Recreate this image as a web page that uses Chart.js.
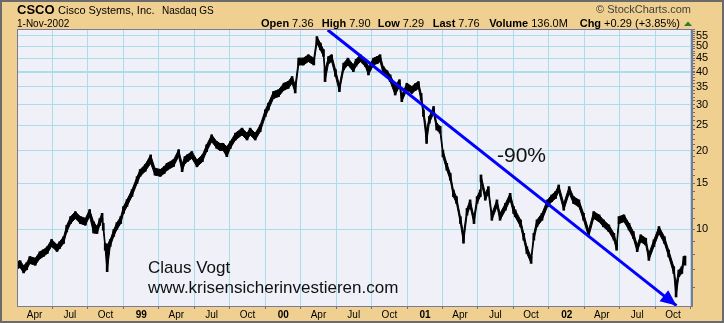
<!DOCTYPE html>
<html>
<head>
<meta charset="utf-8">
<script src="https://cdn.jsdelivr.net/npm/chart.js@4.4.0/dist/chart.umd.min.js"></script>
<style>
  html, body { margin: 0; padding: 0; background: #f0d090; }
  #wrap { width: 724px; height: 323px; }
</style>
</head>
<body>
<div id="wrap"><canvas id="chart" width="724" height="323"></canvas></div>
<script>
const dates = [
  '1998-02-16','1998-02-23','1998-03-04','1998-03-12','1998-03-20','1998-04-03','1998-04-15','1998-04-24','1998-05-04','1998-05-15',
  '1998-05-29','1998-06-05','1998-06-15','1998-06-23','1998-07-03','1998-07-15','1998-07-28','1998-08-10','1998-08-21','1998-08-31',
  '1998-09-09','1998-09-16','1998-09-22','1998-09-25','1998-09-30','1998-10-05','1998-10-13','1998-10-22','1998-10-30','1998-11-09',
  '1998-11-16','1998-11-25','1998-12-08','1998-12-21','1998-12-29','1999-01-11','1999-01-25','1999-02-05','1999-02-19','1999-03-01',
  '1999-03-08','1999-03-25','1999-04-07','1999-04-16','1999-04-23','1999-04-30','1999-05-11','1999-05-24','1999-06-07','1999-06-18',
  '1999-07-01','1999-07-14','1999-07-23','1999-07-30','1999-08-09','1999-08-18','1999-08-31','1999-09-17','1999-09-30','1999-10-08',
  '1999-10-21','1999-11-03','1999-11-16','1999-11-24','1999-12-07','1999-12-20','2000-01-03','2000-01-14','2000-01-24','2000-02-01',
  '2000-02-10','2000-02-22','2000-03-06','2000-03-20','2000-03-28','2000-04-06','2000-04-14','2000-04-18','2000-04-27','2000-05-05',
  '2000-05-15','2000-05-25','2000-06-05','2000-06-16','2000-06-30','2000-07-07','2000-07-18','2000-07-31','2000-08-08','2000-08-21',
  '2000-08-31','2000-09-07','2000-09-15','2000-09-25','2000-10-03','2000-10-16','2000-10-27','2000-11-02','2000-11-15','2000-11-28',
  '2000-12-07','2000-12-15','2000-12-22','2000-12-28','2001-01-05','2001-01-12','2001-01-23','2001-01-31','2001-02-09','2001-02-16',
  '2001-02-26','2001-03-07','2001-03-15','2001-03-23','2001-04-02','2001-04-10','2001-04-19','2001-04-27','2001-05-07','2001-05-15',
  '2001-05-23','2001-05-25','2001-06-05','2001-06-13','2001-06-22','2001-07-05','2001-07-13','2001-07-27','2001-08-08','2001-08-17',
  '2001-08-21','2001-09-04','2001-09-12','2001-09-20','2001-10-01','2001-10-08','2001-10-16','2001-10-29','2001-11-12','2001-11-23',
  '2001-12-03','2001-12-11','2001-12-24','2002-01-07','2002-01-18','2002-02-01','2002-02-13','2002-02-26','2002-03-11','2002-03-25',
  '2002-04-05','2002-04-19','2002-05-02','2002-05-09','2002-05-15','2002-05-28','2002-06-10','2002-06-21','2002-07-01','2002-07-10',
  '2002-07-23','2002-07-31','2002-08-13','2002-08-26','2002-09-09','2002-09-20','2002-10-03','2002-10-09','2002-10-16','2002-10-24',
  '2002-10-29','2002-11-01'
];
const highs = [
  7.52, 7.58, 7.26, 7.45, 7.86, 7.75, 8.21, 8.35, 8.58, 9.14,
  8.73, 8.97, 9.37, 10.36, 11.18, 11.68, 11.18, 11.01, 11.89, 10.69,
  10.24, 10.98, 11.51, 10.54, 8.84, 8.71, 9.14, 9.97, 10.60, 11.18,
  12.21, 12.98, 14.18, 15.89, 16.93, 17.69, 19.24, 17.11, 16.93, 17.37,
  17.87, 18.46, 20.15, 17.83, 18.96, 19.29, 19.82, 18.41, 19.24, 21.03,
  22.97, 21.64, 21.26, 21.31, 20.70, 21.64, 23.30, 24.36, 23.30, 24.36,
  23.30, 25.06, 28.63, 30.34, 33.61, 34.11, 36.18, 36.71, 38.36, 35.67,
  45.11, 45.11, 46.45, 45.11, 54.5, 51.5, 48.62, 40.79, 45.73, 46.45,
  40.79, 35.64, 43.16, 45.11, 42.54, 44.6, 46.45, 44.5, 41.92, 45.11,
  45.73, 46.45, 41.92, 40.38, 38.93, 35.64, 37.29, 32.65, 36.15, 35.12,
  36.05, 36.67, 33.06, 28.63, 24.0, 26.99, 29.46, 25.44, 24.72, 20.09,
  17.87, 16.36, 14.14, 13.33, 11.18, 9.65, 12.02, 12.95, 11.18, 13.33,
  14.14, 16.13, 13.72, 14.55, 11.51, 12.95, 11.51, 12.57, 13.72, 12.21,
  11.86, 10.86, 9.65, 8.58, 7.86, 9.65, 10.86, 11.51, 12.95, 13.53,
  13.94, 14.77, 12.57, 14.55, 13.33, 12.95, 11.51, 9.94, 11.68, 11.35,
  10.86, 10.39, 9.65, 8.84, 11.18, 11.35, 10.54, 9.80, 8.71, 9.52,
  9.24, 8.09, 9.12, 10.24, 9.37, 8.33, 7.20, 6.21, 6.98, 7.20,
  7.86, 7.90
];
const lows = [
  7.08, 7.14, 6.81, 7.01, 7.40, 7.29, 7.73, 7.87, 8.08, 8.60,
  8.23, 8.45, 8.83, 9.76, 10.52, 11.00, 10.52, 10.37, 11.19, 9.68,
  9.64, 10.34, 10.83, 9.92, 8.32, 6.89, 8.60, 9.39, 9.98, 10.52,
  11.49, 12.22, 13.36, 14.97, 15.95, 16.65, 17.86, 16.11, 15.95, 16.35,
  16.83, 17.38, 18.97, 16.61, 17.86, 18.17, 18.66, 17.33, 18.12, 19.81,
  21.63, 20.38, 20.02, 20.07, 18.94, 20.38, 21.94, 22.94, 21.94, 22.94,
  21.94, 23.60, 26.97, 28.58, 31.65, 32.13, 34.08, 34.57, 36.12, 33.20,
  42.49, 42.49, 43.75, 42.49, 51.36, 48.5, 45.78, 36.7, 43.07, 43.75,
  38.41, 33.6, 40.64, 42.49, 40.06, 42.0, 43.75, 41.9, 38.9, 42.49,
  43.07, 43.75, 39.48, 38.02, 36.67, 32.6, 35.11, 30.75, 34.05, 33.08,
  33.95, 34.53, 31.14, 26.97, 21.3, 25.41, 27.74, 23.96, 23.28, 18.92,
  16.83, 15.40, 13.32, 12.55, 10.52, 8.85, 11.32, 12.19, 10.52, 12.55,
  13.32, 15.19, 12.92, 13.71, 10.83, 12.19, 10.83, 11.83, 12.92, 11.49,
  11.16, 10.22, 9.09, 8.08, 7.41, 9.09, 10.22, 10.83, 12.19, 12.75,
  13.12, 13.91, 11.83, 13.71, 12.55, 12.19, 10.83, 9.36, 11.00, 10.69,
  10.22, 9.79, 9.09, 8.32, 10.52, 10.69, 9.92, 9.22, 8.21, 8.96,
  8.70, 7.61, 8.58, 9.64, 8.83, 7.85, 6.78, 5.51, 6.58, 6.78,
  7.40, 7.29
];

const priceTicks = [10, 15, 20, 25, 30, 35, 40, 45, 50, 55];
const monthTicks = [
  ['1998-04-01', 'Apr'], ['1998-07-01', 'Jul'], ['1998-10-01', 'Oct'], ['1999-01-01', '99'],
  ['1999-04-01', 'Apr'], ['1999-07-01', 'Jul'], ['1999-10-01', 'Oct'], ['2000-01-01', '00'],
  ['2000-04-01', 'Apr'], ['2000-07-01', 'Jul'], ['2000-10-01', 'Oct'], ['2001-01-01', '01'],
  ['2001-04-01', 'Apr'], ['2001-07-01', 'Jul'], ['2001-10-01', 'Oct'], ['2002-01-01', '02'],
  ['2002-04-01', 'Apr'], ['2002-07-01', 'Jul'], ['2002-10-01', 'Oct']
];
const dateRange = ['1998-02-15', '2002-11-19'];
const priceRange = [5.09, 58.3];

// hand-drawn -90% trend arrow (date, price)
const trendStart = ['2000-04-25', 57.8];
const trendEnd = ['2002-10-10', 5.11];

const FONT = "'Liberation Sans', Arial, sans-serif";

const toYear = (s) => {
  const [y, m, d] = s.split('-').map(Number);
  const start = Date.UTC(y, 0, 1);
  const end = Date.UTC(y + 1, 0, 1);
  return y + (Date.UTC(y, m - 1, d) - start) / (end - start);
};

const barData = dates.map((d, i) => ({ x: toYear(d), y: [lows[i], highs[i]] }));
const highData = dates.map((d, i) => ({ x: toYear(d), y: highs[i] }));
const lowData = dates.map((d, i) => ({ x: toYear(d), y: lows[i] }));
const trendData = [
  { x: toYear(trendStart[0]), y: trendStart[1] },
  { x: toYear(trendEnd[0]), y: trendEnd[1] }
];

const text = (ctx, str, x, y, font, color, align) => {
  ctx.font = font;
  ctx.fillStyle = color;
  ctx.textAlign = align || 'left';
  ctx.textBaseline = 'alphabetic';
  ctx.fillText(str, x, y);
  return ctx.measureText(str).width;
};

const frame = {
  id: 'frame',
  beforeDraw(chart) {
    const { ctx, chartArea: a } = chart;
    ctx.save();
    ctx.fillStyle = '#f0d090';
    ctx.fillRect(0, 0, chart.width, chart.height);
    ctx.fillStyle = '#eff0f8';
    ctx.fillRect(a.left, a.top, a.right - a.left, a.bottom - a.top);
    ctx.restore();
  },
  afterDatasetsDraw(chart) {
    // arrow head at the end of the trend line
    const pts = chart.getDatasetMeta(3).data;
    const p0 = pts[0], p1 = pts[1];
    const ang = Math.atan2(p1.y - p0.y, p1.x - p0.x);
    const len = 16, half = 7;
    const ctx = chart.ctx;
    ctx.save();
    ctx.fillStyle = '#0000ff';
    ctx.beginPath();
    ctx.moveTo(p1.x, p1.y);
    ctx.lineTo(p1.x - len * Math.cos(ang) + half * Math.sin(ang), p1.y - len * Math.sin(ang) - half * Math.cos(ang));
    ctx.lineTo(p1.x - len * Math.cos(ang) - half * Math.sin(ang), p1.y - len * Math.sin(ang) + half * Math.cos(ang));
    ctx.closePath();
    ctx.fill();
    ctx.restore();
  },
  afterDraw(chart) {
    const { ctx, chartArea: a } = chart;
    ctx.save();
    // plot border
    ctx.strokeStyle = '#7a7a96';
    ctx.lineWidth = 1;
    ctx.strokeRect(a.left + 0.5, a.top + 0.5, a.right - a.left - 1, a.bottom - a.top);
    // outer border
    ctx.strokeStyle = '#6a6a6a';
    ctx.lineWidth = 2;
    ctx.strokeRect(1, 1, chart.width - 2, chart.height - 2);

    // header line 1
    text(ctx, 'CSCO', 17, 13.5, `bold 13px ${FONT}`, '#000');
    text(ctx, 'Cisco Systems, Inc.', 58, 13.5, `11px ${FONT}`, '#000');
    text(ctx, 'Nasdaq GS', 162, 13.5, `10px ${FONT}`, '#000');
    text(ctx, '\u00a9 StockCharts.com', 691, 13, `11px ${FONT}`, '#404040', 'right');

    // header line 2
    text(ctx, '1-Nov-2002', 17, 27, `10px ${FONT}`, '#000');
    const quote = [
      ['Open', '7.36', 261], ['High', '7.90', 321.7], ['Low', '7.29', 377.7],
      ['Last', '7.76', 432.7], ['Volume', '136.0M', 489.3], ['Chg', '+0.29 (+3.85%)', 579.7]
    ];
    quote.forEach(([label, val, x]) => {
      const w = text(ctx, label, x, 27, `bold 11px ${FONT}`, '#000');
      text(ctx, val, x + w + 3, 27, `11px ${FONT}`, '#000');
    });
    ctx.fillStyle = '#2e7d2e';
    ctx.beginPath();
    ctx.moveTo(688, 21.5);
    ctx.lineTo(692, 26);
    ctx.lineTo(684, 26);
    ctx.closePath();
    ctx.fill();

    // annotations
    text(ctx, '-90%', 497, 162, `21px ${FONT}`, '#111');
    text(ctx, 'Claus Vogt', 148, 273, `17px ${FONT}`, '#111');
    text(ctx, 'www.krisensicherinvestieren.com', 148, 293, `17px ${FONT}`, '#111');
    ctx.restore();
  }
};

new Chart(document.getElementById('chart'), {
  type: 'bar',
  data: {
    datasets: [
      {
        type: 'bar',
        data: barData,
        backgroundColor: '#000',
        barThickness: 2,
        grouped: false,
        order: 3
      },
      {
        type: 'line',
        data: highData,
        borderColor: '#000',
        borderWidth: 1,
        pointRadius: 0,
        tension: 0,
        order: 2
      },
      {
        type: 'line',
        data: lowData,
        borderColor: '#000',
        borderWidth: 1,
        backgroundColor: '#000',
        fill: '-1',
        pointRadius: 0,
        tension: 0,
        order: 1
      },
      {
        type: 'line',
        data: trendData,
        borderColor: '#0000ff',
        borderWidth: 3,
        pointRadius: 0,
        order: 0
      }
    ]
  },
  options: {
    responsive: false,
    devicePixelRatio: 1,
    animation: false,
    layout: { padding: { left: 17, top: 29, right: 0, bottom: 0 } },
    plugins: { legend: { display: false }, tooltip: { enabled: false } },
    scales: {
      x: {
        type: 'linear',
        offset: false,
        min: toYear(dateRange[0]),
        max: toYear(dateRange[1]),
        afterBuildTicks: (scale) => {
          scale.ticks = monthTicks.map(([d]) => ({ value: toYear(d) }));
        },
        afterFit: (scale) => { scale.height = 17; },
        ticks: {
          autoSkip: false,
          maxRotation: 0,
          padding: 0,
          color: '#000',
          font: (c) => ({
            family: FONT,
            size: 10,
            weight: c.index !== undefined && /^\d/.test(monthTicks[c.index][1]) ? 'bold' : 'normal'
          }),
          callback: (v, i) => monthTicks[i][1]
        },
        grid: { color: '#abdcea', tickColor: '#6a6a86', tickLength: 3 },
        border: { color: '#7a7a96' }
      },
      y: {
        type: 'logarithmic',
        position: 'right',
        min: priceRange[0],
        max: priceRange[1],
        afterBuildTicks: (scale) => {
          const t = [];
          for (let v = 6; v <= 58; v++) t.push({ value: v });
          scale.ticks = t;
        },
        afterFit: (scale) => { scale.width = 32; },
        ticks: {
          autoSkip: false,
          padding: 1,
          color: '#000',
          font: { family: FONT, size: 11 },
          callback: (v) => (priceTicks.includes(v) ? String(v) : '')
        },
        grid: {
          color: (c) => (priceTicks.includes(c.tick.value) ? '#abdcea' : 'rgba(0,0,0,0)'),
          lineWidth: (c) => (c.tick.value === 40 ? 2 : 1),
          tickColor: '#6a6a86',
          tickLength: 3
        },
        border: { color: '#7a7a96' }
      }
    }
  },
  plugins: [frame]
});
</script>
</body>
</html>
